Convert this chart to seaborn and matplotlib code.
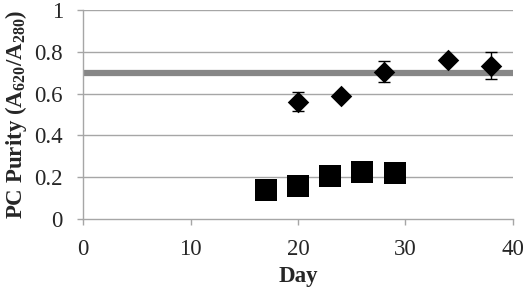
import matplotlib
matplotlib.use("Agg")
import matplotlib.pyplot as plt
import seaborn as sns
import pandas as pd

# Data
square_days = [17, 20, 23, 26, 29]
square_vals = [0.140, 0.160, 0.207, 0.226, 0.219]
diamond_days = [20, 24, 28, 34, 38]
diamond_vals = [0.561, 0.590, 0.705, 0.761, 0.733]
diamond_err = [0.045, 0.0, 0.050, 0.0, 0.065]
threshold = 0.7
x_ticks = [0, 10, 20, 30, 40]
y_ticks = [0, 0.2, 0.4, 0.6, 0.8, 1.0]
y_ticklabels = ["0", "0.2", "0.4", "0.6", "0.8", "1"]

sns.set_theme(style="white")
plt.rcParams['font.family'] = ['Liberation Serif', 'DejaVu Serif']
plt.rcParams['mathtext.fontset'] = 'custom'
plt.rcParams['mathtext.rm'] = 'Liberation Serif:bold'

fig = plt.figure(figsize=(5.26, 2.88), dpi=100)
ax = fig.add_axes([0.158, 0.2396, 0.817, 0.7257])

grid_c = "#a6a6a6"
for yv in y_ticks[1:]:
    ax.axhline(yv, color=grid_c, lw=1.0, zorder=0)

ax.axhline(threshold, color="#878787", lw=4.5, zorder=1)

sq = pd.DataFrame({"Day": square_days, "Purity": square_vals})
dm = pd.DataFrame({"Day": diamond_days, "Purity": diamond_vals})

ax.errorbar(diamond_days, diamond_vals, yerr=diamond_err, fmt='none',
            ecolor='black', elinewidth=1.0, capsize=4, capthick=1.0, zorder=2)
sns.scatterplot(data=sq, x="Day", y="Purity", marker='s', s=230, color='black',
                edgecolor='black', linewidth=0, ax=ax, zorder=3)
sns.scatterplot(data=dm, x="Day", y="Purity", marker='D', s=120, color='black',
                edgecolor='black', linewidth=0, ax=ax, zorder=3)

ax.set_xlim(0, 40)
ax.set_ylim(0, 1.0)
ax.set_xticks(x_ticks)
ax.set_yticks(y_ticks)
ax.set_yticklabels(y_ticklabels)

for s in ['top', 'right']:
    ax.spines[s].set_visible(False)
for s in ['left', 'bottom']:
    ax.spines[s].set_color(grid_c)
    ax.spines[s].set_linewidth(1.0)
ax.tick_params(axis='both', which='major', direction='out', length=4.5,
               width=1.0, color=grid_c, labelsize=16.5,
               bottom=True, left=True)
ax.tick_params(axis='x', pad=10)
ax.tick_params(axis='y', pad=10)

ax.set_xlabel("Day", fontsize=16.5, fontweight='bold', labelpad=4)
ax.set_ylabel(r"PC Purity (A$\mathregular{_{620}}$/A$\mathregular{_{280}}$)",
              fontsize=16.5, fontweight='bold', labelpad=4)

fig.savefig("out.png", dpi=100)
